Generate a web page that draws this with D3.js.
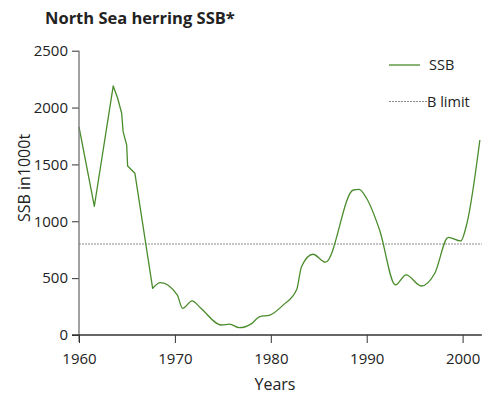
<!DOCTYPE html>
<html>
<head>
<meta charset="utf-8">
<script src="https://cdn.jsdelivr.net/npm/d3@7"></script>
<style>
  html, body { margin: 0; padding: 0; background: #fff; }
  svg { display: block; font-family: "Open Sans", "Noto Sans", sans-serif; }
</style>
</head>
<body>
<svg id="chart" width="483" height="394"></svg>
<script>
// Spawning stock biomass, thousand tonnes
const years = [1960.0, 1961.6, 1963.57, 1964.03, 1964.45, 1964.6, 1964.97, 1965.07, 1965.83, 1967.68,
               1968.5, 1970.24, 1970.8, 1971.8, 1972.6, 1974.86, 1975.7, 1976.7, 1978.0, 1978.8,
               1979.9, 1981.3, 1982.7, 1983.2, 1984.4, 1985.7, 1988.6, 1989.2, 1990.0, 1991.35,
               1993.0, 1994.1, 1995.7, 1997.1, 1998.5, 1999.8, 2000.45, 2001.8];
const ssb   = [1830, 1132, 2190, 2082, 1950, 1788, 1671, 1486, 1422, 410,
               460, 352, 235, 300, 245, 88, 96, 64, 100, 160,
               175, 265, 400, 600, 710, 640, 1275, 1280, 1200, 921,
               440, 528, 431, 543, 859, 827, 982, 1715];
const bLimit = 800;
const xTicks = [1960, 1970, 1980, 1990, 2000];
const yTicks = [0, 500, 1000, 1500, 2000, 2500];
const legendLabels = ["SSB", "B limit"];

const svg = d3.select("#chart");
const green = "#4a8c2c";

const x = d3.scaleLinear().domain([1960, 2002]).range([79, 481.8]);
const y = d3.scaleLinear().domain([0, 2500]).range([335, 50.7]);

// title
svg.append("text")
  .attr("x", 45).attr("y", 24)
  .attr("font-size", 16.5).attr("font-weight", "bold")
  .attr("fill", "#222")
  .text("North Sea herring SSB*");

// B limit reference line
svg.append("line")
  .attr("x1", x(1960)).attr("x2", x(2002))
  .attr("y1", y(bLimit)).attr("y2", y(bLimit))
  .attr("stroke", "#8a8a8a").attr("stroke-width", 1)
  .attr("stroke-dasharray", "2,1");

// SSB curve: straight segments through the early collapse, smooth afterwards
const data = years.map((yr, i) => ({ yr, v: ssb[i] }));
const split = years.indexOf(1967.68);
const lineLinear = d3.line().x(d => x(d.yr)).y(d => y(d.v)).curve(d3.curveLinear);
const lineSmooth = d3.line().x(d => x(d.yr)).y(d => y(d.v)).curve(d3.curveMonotoneX);
const pathD = lineLinear(data.slice(0, split + 1)) + lineSmooth(data.slice(split)).replace(/^M/, "L");
svg.append("path")
  .attr("fill", "none")
  .attr("stroke", green)
  .attr("stroke-width", 1.3)
  .attr("stroke-linejoin", "round")
  .attr("d", pathD);

// y axis
const yAxis = svg.append("g")
  .attr("transform", `translate(${x(1960)},0)`)
  .call(d3.axisLeft(y).tickValues(yTicks).tickFormat(d3.format("d")).tickSize(7).tickSizeOuter(0).tickPadding(4));
yAxis.select(".domain").remove();
yAxis.append("line")
  .attr("x1", 0).attr("x2", 0)
  .attr("y1", y(2500)).attr("y2", y(0) + 7)
  .attr("stroke", "#7a7a7a").attr("stroke-width", 1.4);
yAxis.selectAll(".tick line").attr("stroke", "#333");
yAxis.selectAll(".tick text")
  .attr("font-size", 15).attr("fill", "#222")
  .attr("font-family", "\"Open Sans\", sans-serif");

// x axis
const xAxis = svg.append("g")
  .attr("transform", `translate(0,${y(0)})`)
  .call(d3.axisBottom(x).tickValues(xTicks).tickFormat(d3.format("d")).tickSize(8).tickSizeOuter(0).tickPadding(10));
xAxis.select(".domain").remove();
xAxis.append("line")
  .attr("x1", x(1960) - 7).attr("x2", x(2002))
  .attr("y1", 0).attr("y2", 0)
  .attr("stroke", "#333").attr("stroke-width", 1.4);
xAxis.selectAll(".tick line").attr("stroke", "#333");
xAxis.selectAll(".tick text")
  .attr("font-size", 15).attr("fill", "#222")
  .attr("font-family", "\"Open Sans\", sans-serif");

// axis titles
svg.append("text")
  .attr("x", 275).attr("y", 390)
  .attr("text-anchor", "middle")
  .attr("font-size", 16).attr("fill", "#222")
  .text("Years");
svg.append("text")
  .attr("transform", "translate(30,178) rotate(-90)")
  .attr("text-anchor", "middle")
  .attr("font-size", 16).attr("fill", "#222")
  .text("SSB in1000t");

// legend
const legend = svg.append("g");
legend.append("line")
  .attr("x1", 389).attr("x2", 420).attr("y1", 65).attr("y2", 65)
  .attr("stroke", green).attr("stroke-width", 1.3);
legend.append("text")
  .attr("x", 429).attr("y", 70)
  .attr("font-size", 14.5).attr("fill", "#222")
  .text(legendLabels[0]);
legend.append("line")
  .attr("x1", 389).attr("x2", 427).attr("y1", 101.5).attr("y2", 101.5)
  .attr("stroke", "#8a8a8a").attr("stroke-width", 1)
  .attr("stroke-dasharray", "2,1");
legend.append("text")
  .attr("x", 427).attr("y", 106.5)
  .attr("font-size", 14.5).attr("fill", "#222")
  .text(legendLabels[1]);
</script>
</body>
</html>
